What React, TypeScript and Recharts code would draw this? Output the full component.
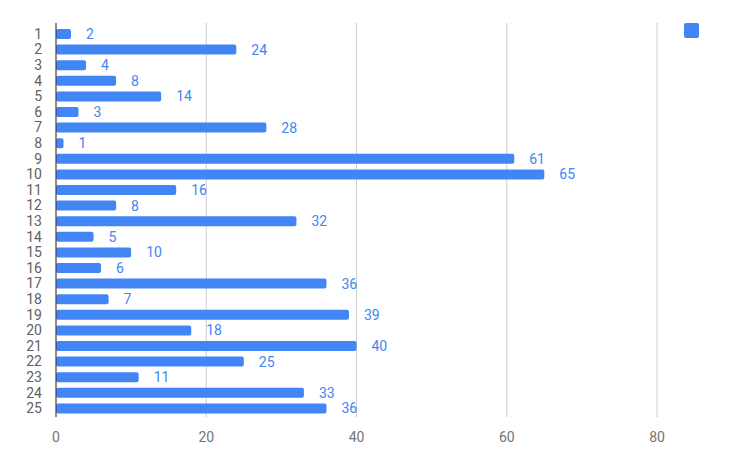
import { BarChart, Bar, XAxis, YAxis, CartesianGrid, LabelList } from "recharts";

const categories = ["1", "2", "3", "4", "5", "6", "7", "8", "9", "10", "11", "12", "13", "14", "15", "16", "17", "18", "19", "20", "21", "22", "23", "24", "25"];
const values = [2, 24, 4, 8, 14, 3, 28, 1, 61, 65, 16, 8, 32, 5, 10, 6, 36, 7, 39, 18, 40, 25, 11, 33, 36];
const xTicks = [0, 20, 40, 60, 80];

const data = categories.map((name, i) => ({ name, value: values[i] }));

export default function App() {
  return (
    <div style={{ position: "absolute", left: 0, top: 0, width: 750, height: 463, background: "#fff" }}>
      <BarChart
        width={750}
        height={463}
        data={data}
        layout="vertical"
        margin={{ top: 23, right: 93, bottom: 0, left: 0 }}
        barSize={10}
        style={{ fontFamily: "Roboto, sans-serif" }}
      >
        <CartesianGrid horizontal={false} stroke="#cccccc" />
        <XAxis
          type="number"
          domain={[0, 80]}
          ticks={xTicks}
          height={46}
          axisLine={false}
          tickLine={false}
          tickMargin={9}
          tick={{ fill: "#757575", fontSize: 14 }}
          interval={0}
        />
        <YAxis
          type="category"
          dataKey="name"
          width={56}
          padding={{ top: 3, bottom: 1 }}
          axisLine={{ stroke: "#333333" }}
          tickLine={false}
          tickMargin={8}
          interval={0}
          tick={{ fill: "#616161", fontSize: 14 }}
        />
        <Bar dataKey="value" fill="#4285f4" radius={2} isAnimationActive={false}>
          <LabelList dataKey="value" position="right" offset={15} fill="#4285f4" fontSize={14} />
        </Bar>
      </BarChart>
      {/* legend: single series with no name, just the swatch */}
      <div style={{ position: "absolute", left: 684, top: 23, width: 15, height: 15, background: "#4285f4", borderRadius: 2 }} />
    </div>
  );
}
